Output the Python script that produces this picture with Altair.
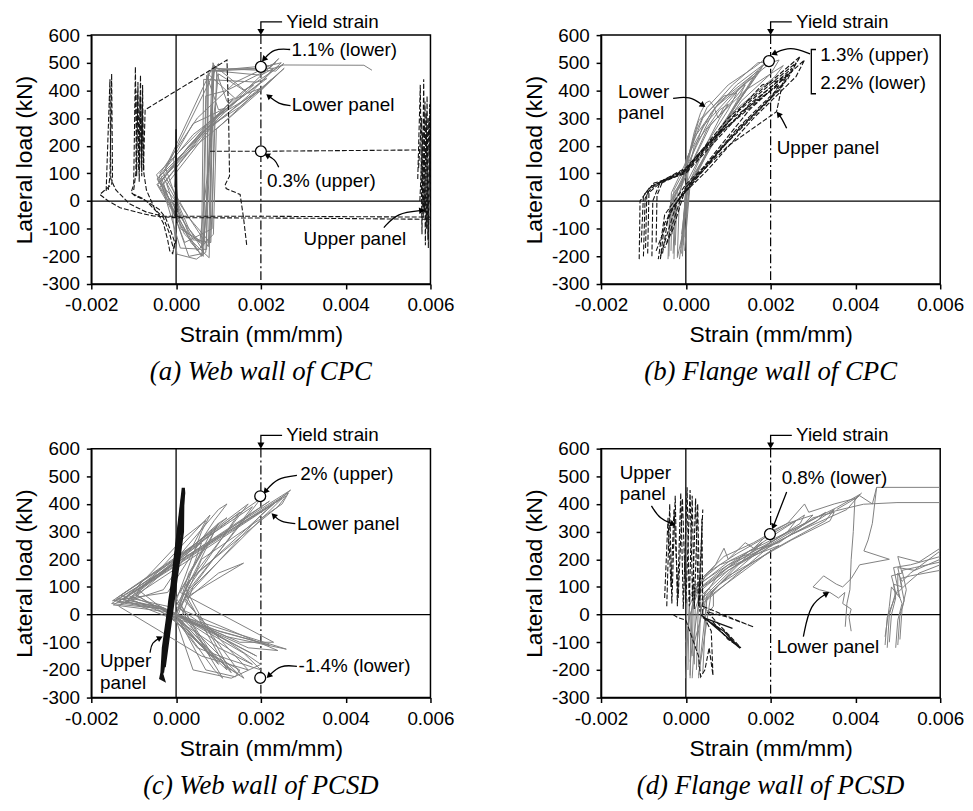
import math
import altair as alt
import pandas as pd

# ---------------- data: strain in microstrain, lateral load in kN ----------------
# (a) Web wall of CPC
A_LOWER = [
    [(-460, 95), (600, 260), (1600, 400), (2540, 497), (2350, 470), (900, 480), (820, 250), (700, -185), (480, -210), (20, -192), (-100, -30), (-460, 95)],
    [(-420, 72), (500, 230), (1500, 380), (2420, 515), (2200, 480), (850, 470), (760, 100), (650, -160), (300, -120), (0, 0), (-420, 72)],
    [(-380, 50), (700, 250), (1700, 380), (2300, 480), (2000, 455), (960, 470), (820, -150), (400, -140), (0, -20), (-380, 50)],
    [(-300, 85), (800, 290), (2140, 443), (1900, 430), (650, 440), (600, -170), (300, -100), (50, -10), (-300, 85)],
    [(-220, 60), (900, 280), (1980, 407), (1700, 390), (900, 490), (640, -200), (350, -150), (0, -40), (-220, 60)],
    [(-450, 80), (600, 240), (1830, 420), (1600, 400), (1000, 460), (560, -150), (200, -80), (-450, 80)],
    [(-400, 90), (400, 240), (1590, 383), (1400, 370), (750, 460), (720, -175), (100, -170), (-400, 90)],
    [(-350, 70), (300, 200), (1350, 371), (1200, 360), (870, 500), (780, -205), (200, -120), (-350, 70)],
    [(-300, 100), (200, 250), (1000, 497), (880, 470), (800, -150), (300, -60), (-300, 100)],
    [(-250, 120), (300, 300), (880, 491), (850, 300), (760, -165), (0, 10), (-250, 120)],
    [(-60, 156), (400, 280), (1160, 335), (1000, 330), (720, 455), (650, -150), (100, -100), (-60, 156)],
    [(-430, 60), (1000, 310), (2000, 430), (2480, 500), (2200, 490), (760, 470), (740, 0), (600, -200), (-430, 60)],
    [(-450, 60), (300, 180), (1100, 280), (2000, 400), (2550, 480), (2400, 460), (1800, 380), (950, 260), (880, -120), (500, -180), (0, -60), (-450, 60)],
    [(-380, 100), (500, 300), (1400, 430), (2350, 500), (2100, 470), (1200, 400), (700, 380), (620, -190), (300, -200), (-380, 100)],
    [(-300, 60), (700, 260), (1500, 340), (2250, 440), (2000, 400), (900, 300), (850, -100), (200, -150), (-300, 60)],
    [(780, 470), (1350, 478), (2300, 480), (2540, 492), (4430, 491), (4620, 473)],
]
A_UPPER = [
    [(-1600, 40), (-1560, 90), (-1520, 460), (-1500, 90), (-1520, 60), (-1800, 24), (-1600, 0), (-1320, -24), (-800, -45), (-530, -54), (-60, -60), (3000, -62), (6000, -66)],
    [(-1650, 36), (-1560, 440), (-1540, 80), (-1420, 40), (-1100, -10), (-700, -40), (-300, -55), (2000, -55), (6000, -58)],
    [(-1050, 36), (-1000, 60), (-960, 485), (-930, 90), (-900, 430), (-870, 70), (-840, 455), (-810, 90), (-790, 420), (-770, 110), (-730, 330), (1200, 510), (1240, 300), (1260, 90), (1160, 60), (1180, 45), (1510, 24), (1590, -60), (1670, -165)],
    [(-1050, 30), (-980, 20), (-700, 0), (-450, -40), (-300, -80), (-200, -140), (-150, -180), (-80, -190), (-30, -150), (-120, -110), (-250, -60), (-400, -30), (-800, 10), (-1000, 25)],
    [(-1000, 40), (-950, 100), (-920, 400), (-880, 110), (-850, 380), (-820, 120), (-800, 350), (-760, 100), (-700, 40), (-500, -30), (-300, -60), (-150, -120), (-60, -175), (0, -140)],
    [(800, 180), (2000, 180), (6000, 185)],
    [(5700, 80), (5760, 420), (5800, -120), (5840, 440), (5880, -160), (5920, 380), (5950, -170), (5980, 350), (6000, -100)],
    [(5720, 120), (5790, 300), (5830, -60), (5870, 360), (5910, -100), (5960, 300), (6000, 50)],
    [(5750, 0), (5820, 250), (5860, -40), (5900, 320), (5940, -140), (5990, 200)],
]
A_UPPER_SOLID = [
    [(-20, -60), (0, 260), (20, -40), (-10, 200), (15, -80), (0, 180), (-25, 50)],
]

# (b) Flange wall of CPC
B_LOWER = [
    [(-400, -200), (-360, 0), (-100, 60), (0, 130), (250, 255), (500, 338), (1000, 420), (1600, 482), (1900, 517), (1750, 470), (1200, 350), (500, 180), (100, 60), (-50, -100), (-200, -205)],
    [(-350, -180), (-320, 20), (-60, 80), (0, 150), (600, 320), (1200, 420), (1800, 490), (1600, 440), (900, 280), (300, 120), (50, 40), (-100, -150), (-150, -210)],
    [(-300, -190), (-250, 30), (0, 110), (200, 230), (800, 360), (1700, 470), (1500, 420), (800, 260), (200, 80), (0, 20), (-80, -200)],
    [(-250, -160), (-200, 40), (0, 100), (400, 270), (1000, 370), (1600, 450), (1400, 400), (700, 240), (100, 60), (-30, -180)],
    [(-420, -210), (-380, -20), (-150, 50), (0, 90), (500, 260), (1200, 380), (1400, 420), (1200, 360), (600, 200), (80, 50), (-20, -130)],
    [(-200, -200), (-150, 20), (0, 130), (300, 290), (900, 380), (1200, 390), (1000, 330), (500, 210), (0, 40), (-100, -190)],
    [(-320, -120), (-280, 40), (0, 120), (700, 340), (2000, 500), (2200, 510), (2000, 460), (1300, 360), (600, 200), (0, 50), (-50, -160)],
    [(0, 120), (200, 250), (350, 320), (470, 355), (560, 362), (650, 345), (760, 300), (900, 340), (1400, 430), (1900, 500)],
    [(-380, -100), (-340, 30), (0, 140), (400, 300), (1100, 420), (1700, 500), (2050, 505)],
    [(-100, -120), (0, 0), (50, 100), (200, 200), (800, 330), (1000, 350), (800, 300), (300, 150), (0, 60), (-60, -100)],
    [(-280, -210), (-240, 0), (0, 90), (600, 280), (1400, 400), (2300, 490), (2100, 450), (1100, 320), (300, 120), (0, 30), (-120, -170)],
]
B_UPPER = [
    [(-1100, -210), (-1080, 0), (-850, 50), (-600, 70), (0, 115), (1000, 300), (2700, 523), (2500, 470), (1500, 330), (400, 120), (0, 60), (-500, -50), (-650, -210)],
    [(-1000, -200), (-960, 10), (-800, 55), (-300, 85), (0, 110), (1200, 320), (2600, 500), (2400, 440), (1200, 260), (200, 80), (-200, 0), (-600, -200)],
    [(-900, -190), (-870, 30), (-650, 60), (0, 105), (900, 260), (2500, 480), (2300, 420), (1000, 220), (100, 55), (-400, -40), (-550, -190)],
    [(-1050, -150), (-1000, 20), (-750, 65), (-200, 90), (0, 100), (1500, 350), (2400, 460), (2200, 400), (1300, 270), (300, 90), (-300, -20), (-700, -180)],
    [(-800, -200), (-780, 0), (-600, 70), (0, 120), (1800, 420), (2300, 440), (2140, 323), (1000, 200), (0, 50), (-500, -80), (-600, -210)],
    [(-950, -170), (-920, 30), (-700, 60), (0, 110), (600, 220), (2000, 400), (2800, 510), (2600, 450), (1600, 300), (500, 110), (-100, 20), (-450, -150)],
    [(-700, -150), (-680, 20), (-550, 70), (0, 115), (1100, 300), (2200, 420), (2000, 370), (900, 200), (0, 50), (-300, -100), (-500, -170)],
]

# (c) Web wall of PCSD
C_LOWER = [
    [(-1520, 40), (2700, 450), (2300, 400), (300, 120), (0, 0), (2600, -125), (1200, -80), (-300, 20), (-1520, 40)],
    [(-1450, 50), (2500, 420), (400, 100), (100, -20), (2200, -110), (1000, -60), (-400, 30), (-1450, 50)],
    [(-1400, 60), (2000, 420), (1800, 380), (300, 90), (0, 0), (1900, -150), (800, -60), (-300, 25), (-1400, 60)],
    [(-1300, 70), (1800, 390), (200, 60), (1600, -230), (1200, -190), (-200, 0), (-1300, 70)],
    [(-1200, 45), (1500, 370), (300, 100), (50, 0), (1500, -220), (700, -130), (-300, 20), (-1200, 45)],
    [(-1100, 60), (1200, 350), (1000, 330), (200, 80), (1200, -200), (500, -100), (-200, 30), (-1100, 60)],
    [(-1000, 80), (900, 300), (0, 60), (1000, -180), (300, -60), (-1000, 80)],
    [(-900, 90), (600, 260), (100, 40), (800, -150), (200, -40), (-900, 90)],
    [(-1350, 30), (2300, 400), (2000, 360), (213, 60), (1590, 186), (1000, 150), (200, 50), (1700, -200), (600, -150), (-1350, 30)],
    [(-1250, 55), (2600, 430), (2400, 390), (400, 140), (0, 30), (2000, -180), (1300, -230), (400, -200), (0, -20), (-1250, 55)],
    [(-500, 40), (0, 0), (700, -200), (1400, -225), (1500, -200), (900, -150), (0, 0)],
    [(-1480, 35), (2650, 440), (2500, 400), (600, 200), (100, 20), (2400, -130), (1700, -120), (-200, 10), (-1480, 35)],
    [(-1380, 45), (2200, 410), (700, 250), (300, 150), (0, 0), (1800, -180), (1000, -120), (-350, 20), (-1380, 45)],
    [(-1150, 70), (1700, 400), (1500, 360), (200, 100), (1300, -210), (1000, -160), (-100, 10), (-1150, 70)],
    [(-1050, 50), (1000, 330), (800, 290), (100, 80), (2300, -100), (1500, -100), (-200, 15), (-1050, 50)],
    [(-950, 70), (800, 360), (600, 300), (0, 50), (1100, -230), (900, -200), (0, -10), (-950, 70)],
    [(-1500, 50), (-800, 120), (0, 200), (1000, 380), (1200, 400), (900, 340), (300, 200), (-200, 80), (-1500, 50)],
    [(-1300, 40), (-600, 150), (200, 280), (700, 340), (400, 250), (-300, 90), (-1300, 40)],
    [(-100, 0), (500, -120), (1200, -160), (2000, -200), (1600, -140), (700, -60), (0, 0)],
]
C_UPPER_SOLID = [
    [(-340, -229), (-300, -120), (-100, 100), (50, 300), (170, 458), (180, 440), (50, 250), (-150, 50), (-320, -200), (-360, -230), (-300, -235), (-330, -220)],
    [(-320, -210), (160, 430), (150, 300), (-280, -190)],
]

# (d) Flange wall of PCSD
D_LOWER = [
    [(0, -230), (50, -50), (100, 60), (252, 100), (1040, 195), (1984, 267), (2930, 339), (3560, 387), (4110, 435), (3800, 380), (2500, 290), (1000, 160), (300, 60), (250, -200)],
    [(100, -220), (120, 0), (200, 80), (1000, 180), (2000, 250), (3000, 330), (3500, 380), (3300, 340), (2000, 230), (500, 60), (350, -150), (300, -230)],
    [(50, -200), (80, 30), (300, 110), (1200, 200), (2000, 280), (2800, 360), (2700, 330), (1800, 240), (500, 70), (200, -100), (150, -230)],
    [(200, -180), (220, 20), (400, 100), (1300, 190), (2500, 300), (3300, 370), (3100, 340), (2000, 250), (488, 51), (400, -210)],
    [(0, -150), (30, 50), (250, 110), (800, 180), (1500, 220), (1800, 260), (1600, 230), (800, 150), (300, 40), (100, -170)],
    [(250, 100), (700, 180), (900, 240), (1000, 200), (1400, 260), (1600, 240), (2000, 300), (2400, 330), (2800, 400), (2900, 370), (3500, 400), (4000, 420), (4150, 440)],
    [(300, 80), (1000, 170), (1700, 220), (2200, 250), (1700, 200), (800, 110), (350, 30), (300, -190)],
    [(0, -100), (100, 0), (300, 90), (1500, 230), (2200, 260), (3000, 350), (3500, 370), (3400, 339), (2500, 270), (1000, 140), (400, 50)],
    [(100, -230), (150, 30), (300, 120), (900, 210), (1600, 260), (2400, 330), (3000, 360), (2800, 330), (1500, 220), (600, 80), (300, -220)],
    [(150, -150), (180, 60), (500, 150), (1200, 220), (2000, 290), (2600, 340), (2400, 300), (1200, 180), (400, 60), (250, -120)],
    [(400, 30), (450, 80), (550, 95), (650, 70), (650, 30), (550, 10), (450, 20), (400, 30)],
    [(3560, 380), (4000, 420), (4100, 430), (4400, 400), (4500, 460), (6000, 460)],
    [(3400, 370), (3800, 385), (4190, 399), (4980, 405), (6000, 405)],
    [(3990, 423), (3950, 300), (3900, 200), (3870, 90), (3800, 40), (3760, -44)],
    [(4500, 460), (4400, 330), (4300, 270), (4200, 230), (4800, 200), (4100, 180), (3900, 130), (3700, 100), (3550, 110), (3250, 140), (3000, 100), (3150, 90), (3400, 80), (3600, 60), (3750, 80), (3700, 40), (3900, 20), (3850, -10), (3900, -60)],
    [(4700, -110), (4750, -10), (4900, 50), (5000, 90), (5000, 150), (5100, 120), (5300, 150), (6000, 230)],
    [(4800, -100), (4850, 0), (4950, 60), (4900, 110), (5100, 100), (5000, 170), (5400, 160), (6000, 200)],
    [(4950, -120), (5000, -20), (5100, 40), (5000, 80), (5200, 110), (5500, 150), (6000, 180)],
    [(5000, -110), (5050, 0), (5150, 50), (5050, 130), (5300, 140), (6000, 160)],
    [(4700, -80), (4800, 30), (4850, 100), (5050, 60), (4900, 170), (5300, 180), (6000, 210)],
    [(4750, -120), (4800, 0), (4950, 80), (4850, 140), (5100, 150), (5000, 210), (5500, 190), (6000, 240)],
    [(5050, -90), (5100, 20), (5200, 90), (5100, 160), (5400, 170), (6000, 190)],
]
D_UPPER = [
    [(-450, 30), (-380, 400), (-330, 40), (-250, 430), (-200, 30), (-120, 440), (-60, 20), (30, 460), (80, 30), (150, 430), (200, 20), (280, 400), (330, 10), (380, 350), (400, 0)],
    [(-500, 60), (-420, 350), (-350, 100), (-280, 380), (-180, 60), (-80, 420), (0, 40), (100, 450), (160, 50), (230, 420), (300, 30), (400, 380)],
    [(-300, 0), (-200, -10), (0, -20), (300, -150), (350, -225), (450, -200), (550, -120), (640, -220), (600, -60), (400, 0)],
    [(400, 30), (1600, -45), (1000, -10), (500, 10), (1300, -120), (1000, -90), (600, -20)],
]
D_UPPER_SOLID = [
    [(350, 0), (1280, -122), (900, -60), (400, -10), (1100, -50)],
]

# annotations: (text, strain, load) / arrow paths / marker circles
A_TEXT = [("1.1% (lower)", 2720, 545), ("Lower panel", 2730, 347), ("0.3% (upper)", 2142, 72), ("Upper panel", 3008, -138)]
A_ARROWS = [[(2690, 548), (2300, 552), (2070, 512)], [(2700, 345), (2420, 350), (2180, 380)],
            [(2420, 122), (2340, 150), (2140, 166)], [(4900, -96), (5213, -42), (5800, -34)]]
A_CIRCLES = [(2000, 485), (2000, 180)]

B_TEXT = [("1.3% (upper)", 3170, 527), ("2.2% (lower)", 3170, 427), ("Lower", -1600, 395), ("panel", -1600, 317), ("Upper panel", 2142, 191)]
B_ARROWS = [[(2930, 532), (2460, 560), (2075, 533)], [(-300, 371), (90, 380), (405, 346)],
            [(2378, 263), (2260, 300), (2185, 315)]]
B_CIRCLES = [(1961, 506)]
B_BRACKET = [(3070, 548), (2960, 548), (2960, 388), (3070, 388)]

C_TEXT = [("2% (upper)", 2929, 509), ("Lower panel", 2850, 329), ("-1.4% (lower)", 2890, -187), ("Upper", -1795, -169), ("panel", -1795, -247)]
C_ARROWS = [[(2850, 503), (2380, 495), (2105, 445)], [(2811, 329), (2457, 335), (2300, 359)],
            [(2850, -187), (2457, -181), (2185, -222)], [(-614, -138), (-575, -100), (-378, -84)]]
C_CIRCLES = [(1984, 428), (1984, -229)]

D_TEXT = [("0.8% (lower)", 2260, 495), ("Upper", -1559, 513), ("panel", -1559, 435), ("Lower panel", 2142, -116)]
D_ARROWS = [[(2378, 443), (2230, 385), (2063, 318)], [(-811, 393), (-614, 345), (-299, 327)],
            [(2772, -80), (2929, 40), (3323, 76)]]
D_CIRCLES = [(1984, 291)]

YIELD_STRAIN = 2000
YIELD_LABEL = ("Yield strain", 2600, 648)
YIELD_PATH = [(2500, 648), (2000, 648), (2000, 611)]

CAPTIONS = ["(a) Web wall of CPC", "(b) Flange wall of CPC", "(c) Web wall of PCSD", "(d) Flange wall of PCSD"]

X_TICKS = [-0.002, 0.0, 0.002, 0.004, 0.006]
Y_TICKS = [-300, -200, -100, 0, 100, 200, 300, 400, 500, 600]

# ---------------- chart ----------------
W, H = 342, 251
XMIN, XMAX = -0.002, 0.006
YMIN, YMAX = -300, 600
KX = W / ((XMAX - XMIN) * 1e6)
KY = H / (YMAX - YMIN)
SANS = "Liberation Sans"

X = alt.X("x:Q", scale=alt.Scale(domain=[XMIN, XMAX], nice=False, zero=False),
          axis=alt.Axis(values=X_TICKS, labelExpr="replace(format(datum.value, '.3f'), '\u2212', '-')",
                        title="Strain (mm/mm)", grid=False, tickSize=5, labelPadding=7, titlePadding=9,
                        labelFlush=False, labelOverlap=False, labelFont=SANS, labelFontSize=19,
                        titleFont=SANS, titleFontSize=23, titleFontWeight="normal",
                        domainColor="black", tickColor="black", labelColor="black", titleColor="black",
                        domainWidth=1.5, tickWidth=1.5))
Y = alt.Y("y:Q", scale=alt.Scale(domain=[YMIN, YMAX], nice=False, zero=False),
          axis=alt.Axis(values=Y_TICKS, labelExpr="replace(format(datum.value, 'd'), '\u2212', '-')",
                        title="Lateral load (kN)", grid=False, tickSize=5, labelPadding=7, titlePadding=5,
                        labelOverlap=False, labelFont=SANS, labelFontSize=19,
                        titleFont=SANS, titleFontSize=23, titleFontWeight="normal",
                        domainColor="black", tickColor="black", labelColor="black", titleColor="black",
                        domainWidth=1.5, tickWidth=1.5))


def series_df(series_list, prefix):
    rows = []
    for i, s in enumerate(series_list):
        for j, (xu, yv) in enumerate(s):
            rows.append({"sid": f"{prefix}{i}", "o": j, "x": xu / 1e6, "y": yv})
    return pd.DataFrame(rows)


def line_layer(series_list, prefix, color, width, dash=None, clip=True, interpolate="linear"):
    kw = dict(color=color, strokeWidth=width, clip=clip, interpolate=interpolate)
    if dash:
        kw["strokeDash"] = dash
    return alt.Chart(series_df(series_list, prefix)).mark_line(**kw).encode(
        x=X, y=Y, detail="sid:N", order="o:Q")


def head_angle(p1, p2):
    dx = (p2[0] - p1[0]) * KX
    dy = (p2[1] - p1[1]) * KY
    return (math.degrees(math.atan2(dx, dy)) + 360) % 360


def heads_layer(paths, size=45):
    df = pd.DataFrame([{"x": p[-1][0] / 1e6, "y": p[-1][1], "a": head_angle(p[-2], p[-1])} for p in paths])
    return alt.Chart(df).mark_point(shape="triangle-up", filled=True, color="black", size=size,
                                    opacity=1, clip=False).encode(
        x=X, y=Y, angle=alt.Angle("a:Q", scale=None))


def text_layer(texts):
    df = pd.DataFrame([{"t": t, "x": xu / 1e6, "y": yv} for t, xu, yv in texts])
    return alt.Chart(df).mark_text(align="left", baseline="middle", font=SANS, fontSize=19,
                                   color="black", clip=False).encode(x=X, y=Y, text="t:N")


def panel(caption, lower, upper, upper_solid, thick_solid, texts, arrows, circles, bracket=None):
    layers = []
    layers.append(alt.Chart(pd.DataFrame({"x": [0.0]})).mark_rule(color="black", strokeWidth=1.3).encode(x=X))
    layers.append(alt.Chart(pd.DataFrame({"y": [0]})).mark_rule(color="black", strokeWidth=1.3).encode(y=Y))
    layers.append(alt.Chart(pd.DataFrame({"x": [YIELD_STRAIN / 1e6]})).mark_rule(
        color="black", strokeWidth=1.2, strokeDash=[9, 3, 2, 3]).encode(x=X))
    if lower:
        layers.append(line_layer(lower, "g", "#808080", 1.0))
    if upper:
        layers.append(line_layer(upper, "u", "#141414", 1.1, dash=[5, 2]))
    if upper_solid:
        layers.append(line_layer(upper_solid, "s", "#141414", 1.4))
    if thick_solid:
        layers.append(line_layer(thick_solid, "t", "#111111", 3.2))
    if bracket:
        layers.append(line_layer([bracket], "b", "black", 1.3, clip=False))
    # yield strain pointer
    layers.append(line_layer([YIELD_PATH], "y", "black", 1.3, clip=False))
    layers.append(heads_layer([YIELD_PATH], size=50))
    layers.append(text_layer([YIELD_LABEL]))
    # arrows
    layers.append(line_layer(arrows, "a", "black", 1.3, clip=False, interpolate="basis"))
    layers.append(heads_layer(arrows))
    # circles
    cdf = pd.DataFrame([{"x": xu / 1e6, "y": yv} for xu, yv in circles])
    layers.append(alt.Chart(cdf).mark_point(shape="circle", filled=True, fill="white", stroke="black",
                                            strokeWidth=1.3, size=120, opacity=1).encode(x=X, y=Y))
    layers.append(text_layer(texts))
    return alt.layer(*layers).properties(
        width=W, height=H,
        title=alt.TitleParams(caption, orient="bottom", anchor="middle", frame="group",
                              font="Liberation Serif", fontStyle="italic", fontSize=27,
                              fontWeight="normal", color="black", offset=13))


pa = panel(CAPTIONS[0], A_LOWER, A_UPPER, A_UPPER_SOLID, None, A_TEXT, A_ARROWS, A_CIRCLES)
pb = panel(CAPTIONS[1], B_LOWER, B_UPPER, None, None, B_TEXT, B_ARROWS, B_CIRCLES, bracket=B_BRACKET)
pc = panel(CAPTIONS[2], C_LOWER, None, None, C_UPPER_SOLID, C_TEXT, C_ARROWS, C_CIRCLES)
pd_ = panel(CAPTIONS[3], D_LOWER, D_UPPER, D_UPPER_SOLID, None, D_TEXT, D_ARROWS, D_CIRCLES)

chart = alt.concat(pa, pb, pc, pd_, columns=2, spacing={"row": 166, "column": 172}, bounds="flush").properties(
    padding={"left": 5, "top": 0, "right": 0, "bottom": 2},
    background="white",
).configure_view(stroke="black", strokeWidth=1.5)

chart.save("out.html", embed_options={"renderer": "svg", "actions": False})
